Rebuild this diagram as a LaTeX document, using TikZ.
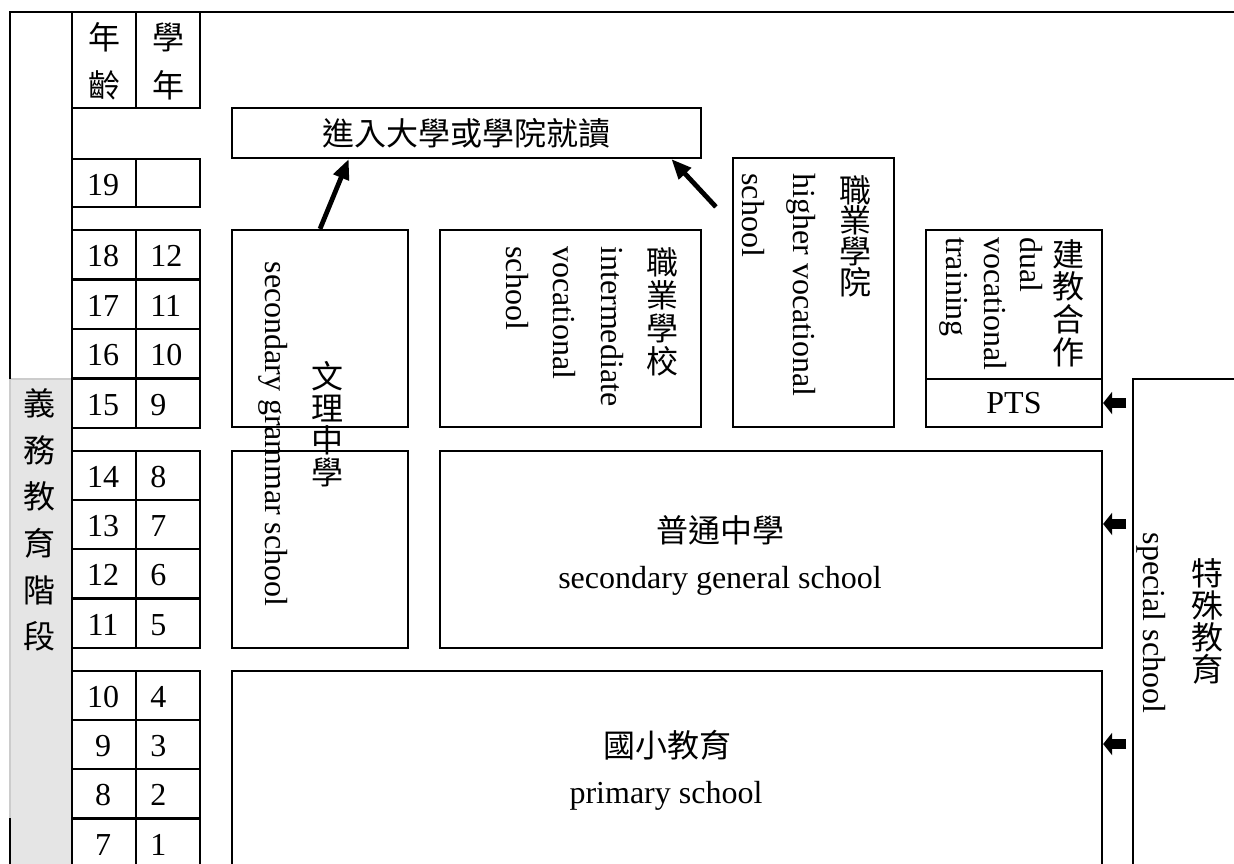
\documentclass[tikz,border=0pt]{standalone}
\usepackage{fontspec}
\setmainfont{Liberation Serif}
\newfontfamily\cjk{Noto Sans CJK TC}
\usetikzlibrary{arrows.meta,fit,calc}
\lineskiplimit=-20pt
\begin{document}
\begin{tikzpicture}[x=0.5pt, y=-0.5pt,
  cell/.style={line width=1.1pt},
  box/.style={draw, line width=1.1pt, inner sep=0pt, fit={#1}},
  en/.style={font=\fontsize{16pt}{19pt}\selectfont, inner sep=0pt},
  cjk/.style={font=\cjk\fontsize{16pt}{19pt}\selectfont, inner sep=0pt},
  vcjk/.style={font=\cjk\fontsize{16pt}{#1}\selectfont, align=center, inner sep=0pt},
  turned/.style={en, rotate=-90, anchor=base west},
  rise/.style={line width=2.4pt, -{Triangle[length=10pt,width=8pt]}},
  push/.style={line width=5pt, -{Triangle[length=4.5pt,width=11pt]}}]
\path[use as bounding box, clip] (0,0) rectangle (1234,863);
\fill[black!10] (10,379) rectangle (72,870);
\draw[black!20, line width=1.1pt] (10,818) -- (10,379) -- (72,379);
\draw[cell] (10,818) -- (10,870);
\draw[cell] (10,379) -- (10,12) -- (1240,12);
\draw[cell] (72,12) -- (72,870);
\node[vcjk=23.3pt] (tDuty) at (40,520) {義\\務\\教\\育\\階\\段};
\draw[cell] (72,12) rectangle (136,108);
\draw[cell] (136,12) rectangle (200,108);
\node[vcjk=24pt] (tAge) at (104,61) {年\\齡};
\node[vcjk=24pt] (tYear) at (168,61) {學\\年};
\draw[cell] (72,159) rectangle (136,207);
\draw[cell] (136,159) rectangle (200,207);
\node[en] (age19) at (103,185) {19};
\foreach \t/\a/\g in {230/18/12, 280/17/11, 329/16/10, 379/15/9, 451/14/8, 500/13/7, 549/12/6, 599/11/5, 671/10/4, 720/9/3, 769/8/2, 819/7/1}{
\draw[cell] (72,\t) rectangle (136,\t+49);
\draw[cell] (136,\t) rectangle (200,\t+49);
\node[en] (age\a) at (103,\t+26) {\a};
\node[en, anchor=west] (yr\a) at (150,\t+26) {\g};
}
\node[box={(232,108) (701,158)}] (uni) {};
\node[box={(232,230) (408,427)}] (gramA) {};
\node[box={(232,451) (408,648)}] (gramB) {};
\node[box={(440,230) (701,427)}] (voc) {};
\node[box={(733,158) (894,427)}] (hv) {};
\node[box={(926,230) (1102,379)}] (dual) {};
\node[box={(926,379) (1102,427)}] (pts) {};
\node[box={(440,451) (1102,648)}] (gen) {};
\node[box={(232,671) (1102,890)}] (prim) {};
\node[box={(1133,379) (1260,890)}] (spec) {};
\node[cjk] (tUni) at (uni.center) {進入大學或學院就讀};
\node[turned, anchor=base] (tGramEn) at (265,434) {secondary grammar school};
\node[vcjk=16pt] (tGram) at (327,424) {文\\理\\中\\學};
\node[vcjk=16.5pt] (tVoc) at (662,312) {職\\業\\學\\校};
\node[turned] (tVocA) at (601,246) {intermediate};
\node[turned] (tVocB) at (553,246) {vocational};
\node[turned] (tVocC) at (506,246) {school};
\node[vcjk=15.3pt] (tHv) at (855,236) {職\\業\\學\\院};
\node[turned] (tHvA) at (793,173) {higher vocational};
\node[turned] (tHvB) at (742,173) {school};
\node[vcjk=16.3pt] (tDual) at (1068,303) {建\\教\\合\\作};
\node[turned] (tDualA) at (1020,237) {dual};
\node[turned] (tDualB) at (984,237) {vocational};
\node[turned] (tDualC) at (946,237) {training};
\node[en] (tPts) at (pts.center) {PTS};
\node[cjk] (tGen) at (720,530) {普通中學};
\node[en, anchor=base] (tGenEn) at (720,588) {secondary general school};
\node[cjk] (tPrim) at (667,745) {國小教育};
\node[en, anchor=base] (tPrimEn) at (666,803) {primary school};
\node[turned, anchor=base] (tSpecEn) at (1143,623) {special school};
\node[vcjk=16pt] (tSpec) at (1207,621) {特\\殊\\教\\育};
\draw[rise] (gramA.north) -- ($(uni.south west)!0.25!(uni.south east)$);
\coordinate (hvTail) at ($(hv.north west)+(-16,50)$);
\draw[rise] (hvTail) -- ($(uni.south west)!0.935!(uni.south east)$);
\foreach \y/\n in {403/pts, 524/gen, 744/prim}{
\coordinate (from\n) at (1126,\y);
\draw[push] (from\n) -- (\n.east |- from\n);
}
\end{tikzpicture}
\end{document}
